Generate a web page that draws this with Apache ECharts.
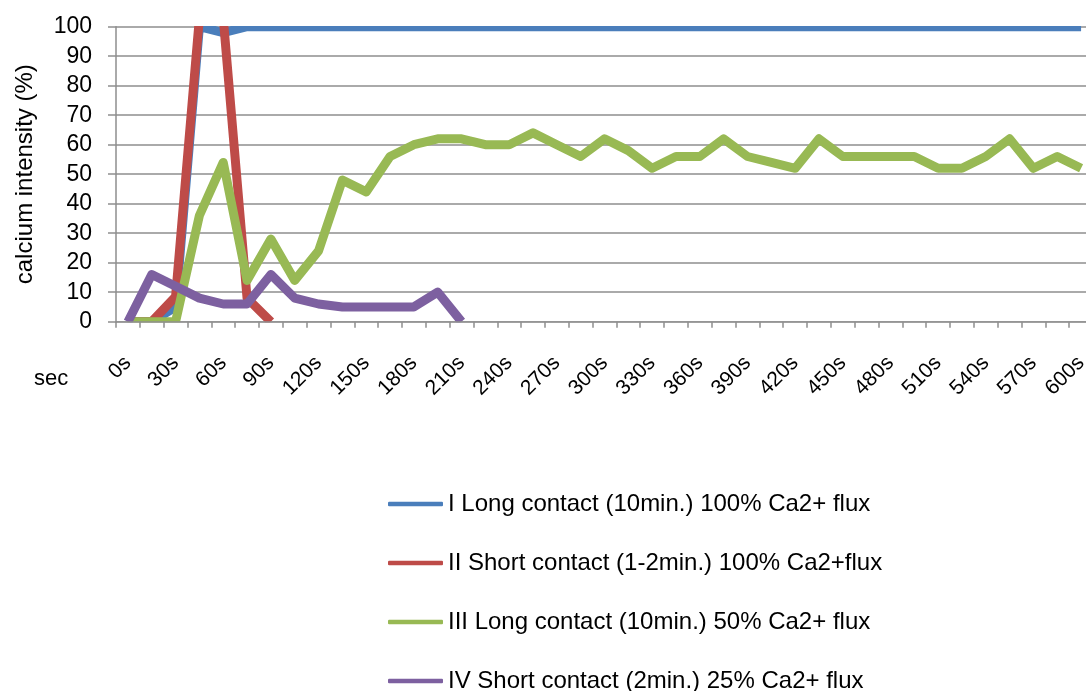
<!DOCTYPE html>
<html>
<head>
<meta charset="utf-8">
<script src="https://cdn.jsdelivr.net/npm/echarts@6/dist/echarts.min.js"></script>
<style>
  html, body { margin: 0; padding: 0; background: #fff; }
  #chart { width: 1086px; height: 691px; }
</style>
</head>
<body>
<div id="chart"></div>
<script>
// Time points, one every 15 seconds
const categories = [
  '0s','15s','30s','45s','60s','75s','90s','105s','120s','135s','150s',
  '165s','180s','195s','210s','225s','240s','255s','270s','285s','300s',
  '315s','330s','345s','360s','375s','390s','405s','420s','435s','450s',
  '465s','480s','495s','510s','525s','540s','555s','570s','585s','600s'
];

const seriesNames = [
  'I Long contact (10min.) 100% Ca2+ flux',
  'II Short contact (1-2min.) 100% Ca2+flux',
  'III Long contact (10min.) 50% Ca2+ flux',
  'IV Short contact (2min.) 25% Ca2+ flux'
];

// calcium intensity (%) per time point
const longFull = [
  0, 0, 5, 100, 98, 100, 100, 100, 100, 100, 100,
  100, 100, 100, 100, 100, 100, 100, 100, 100, 100,
  100, 100, 100, 100, 100, 100, 100, 100, 100, 100,
  100, 100, 100, 100, 100, 100, 100, 100, 100, 100
];
const shortFull = [0, 0, 8.5, 103, 103, 8, 0];
const longHalf = [
  0, 0, 0, 36, 54, 14, 28, 14, 24, 48, 44,
  56, 60, 62, 62, 60, 60, 64, 60, 56, 62,
  58, 52, 56, 56, 62, 56, 54, 52, 62, 56,
  56, 56, 56, 52, 52, 56, 62, 52, 56, 52
];
const shortQuarter = [0, 16, 12, 8, 6, 6, 16, 8, 6, 5, 5, 5, 5, 10, 0];

const colors = ['#4A7EBB', '#BE4B48', '#98B954', '#7D60A0'];
const FONT = '"Liberation Sans", Arial, Helvetica, sans-serif';
const GRID_COLOR = '#8e8e8e';

const chart = echarts.init(document.getElementById('chart'), null, { renderer: 'canvas' });

// plot area runs a little past the right edge of the canvas
const grid = {
  left: 116, top: 26.7, width: 977, height: 295,
  containLabel: false,
  outerBoundsMode: 'none'
};

function lineSeries(name, data, color) {
  return {
    name: name,
    type: 'line',
    data: data,
    symbol: 'none',
    showSymbol: false,
    smooth: false,
    lineStyle: { color: color, width: 9, join: 'round', cap: 'butt' },
    itemStyle: { color: color },
    emphasis: { disabled: true }
  };
}

chart.setOption({
  animation: false,
  color: colors,
  textStyle: { fontFamily: FONT, color: '#000' },
  grid: grid,
  legend: {
    orient: 'vertical',
    left: 388,
    top: 492,
    height: 260,
    padding: 0,
    icon: 'roundRect',
    itemWidth: 55,
    itemHeight: 4.5,
    itemGap: 35,
    textStyle: { fontFamily: FONT, fontSize: 24, color: '#000' },
    data: seriesNames,
    selectedMode: false
  },
  xAxis: {
    type: 'category',
    data: categories,
    boundaryGap: true,
    z: 200,
    axisLine: { show: true, lineStyle: { color: GRID_COLOR, width: 1.5 } },
    axisTick: { show: true, interval: 0, length: 6, lineStyle: { color: GRID_COLOR, width: 1.5 } },
    axisLabel: {
      interval: 1,
      rotate: 45,
      margin: 38,
      fontFamily: FONT,
      fontSize: 21,
      color: '#000'
    },
    splitLine: { show: false }
  },
  yAxis: {
    type: 'value',
    min: 0,
    max: 100,
    interval: 10,
    name: 'calcium intensity (%)',
    nameLocation: 'middle',
    nameRotate: 90,
    nameGap: 79,
    nameTextStyle: { fontFamily: FONT, fontSize: 24, color: '#000' },
    axisLine: { show: true, lineStyle: { color: GRID_COLOR, width: 1.5 } },
    axisTick: { show: true, inside: false, length: 8, lineStyle: { color: GRID_COLOR, width: 1.5 } },
    axisLabel: { margin: 24, fontFamily: FONT, fontSize: 23, color: '#000' },
    splitLine: { show: true, lineStyle: { color: GRID_COLOR, width: 1.5 } }
  },
  graphic: [
    // keep the thick lines inside the plot area, as the plot frame clips them
    {
      type: 'rect', z: 100, silent: true,
      shape: { x: 117, y: 0, width: 980, height: 26 },
      style: { fill: '#fff' }
    },
    {
      type: 'rect', z: 100, silent: true,
      shape: { x: 117, y: 322.5, width: 980, height: 30 },
      style: { fill: '#fff' }
    },
    {
      type: 'text', z: 100, silent: true,
      left: 34, top: 368,
      style: { text: 'sec', font: '22px ' + FONT, fill: '#000' }
    }
  ],
  series: [
    lineSeries(seriesNames[0], longFull, colors[0]),
    lineSeries(seriesNames[1], shortFull, colors[1]),
    lineSeries(seriesNames[2], longHalf, colors[2]),
    lineSeries(seriesNames[3], shortQuarter, colors[3])
  ]
});
</script>
</body>
</html>
